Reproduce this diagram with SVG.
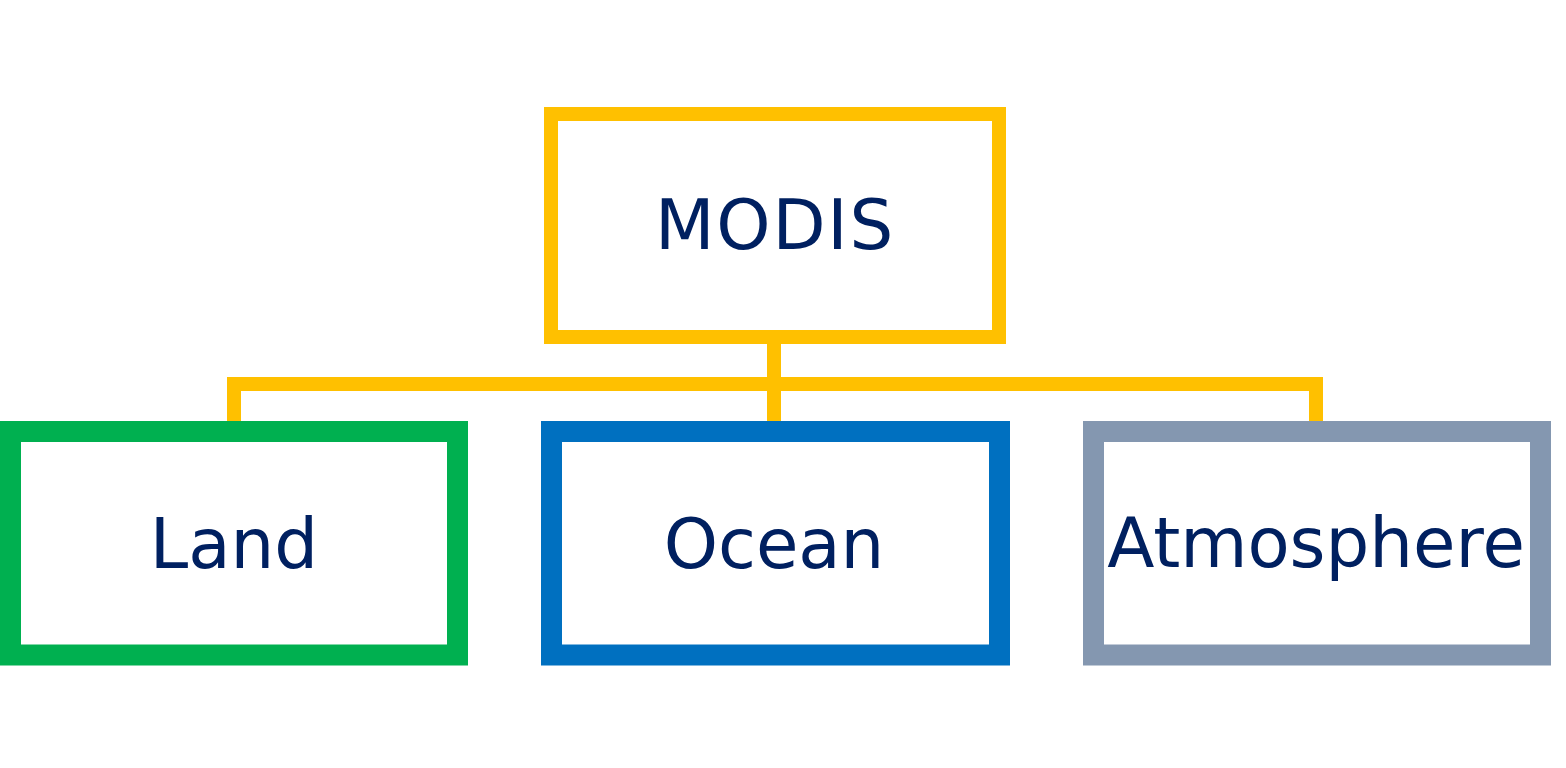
<svg xmlns="http://www.w3.org/2000/svg" width="1566" height="768" viewBox="0 0 1566 768">
<style>
.box{fill:#FFFFFF}
.lbl{font-family:"DejaVu Sans",Verdana,sans-serif;font-size:69px;fill:#002060;text-anchor:middle}
.conn{fill:none;stroke:#FFC000;stroke-width:14;stroke-linejoin:miter}
</style>
<rect width="1566" height="768" fill="#FFFFFF"/>
<g id="connectors">
<path class="conn" d="M234 421 V384 H1316 V421"/>
<path class="conn" d="M774 344 V421"/>
</g>
<g id="modis">
<rect class="box" x="551" y="114" width="448" height="223" stroke="#FFC000" stroke-width="14"/>
<text class="lbl" x="775" y="249" letter-spacing="1.8">MODIS</text>
</g>
<g id="land">
<rect class="box" x="10.5" y="431.5" width="447" height="223.5" stroke="#00B050" stroke-width="21"/>
<text class="lbl" x="234" y="568">Land</text>
</g>
<g id="ocean">
<rect class="box" x="551.5" y="431.5" width="448" height="223.5" stroke="#0070C0" stroke-width="21"/>
<text class="lbl" x="774" y="568">Ocean</text>
</g>
<g id="atmosphere">
<rect class="box" x="1093.5" y="431.5" width="447" height="223.5" stroke="#8497B0" stroke-width="21"/>
<text class="lbl" x="1316" y="567">Atmosphere</text>
</g>
</svg>
